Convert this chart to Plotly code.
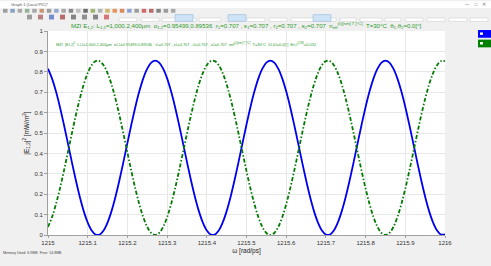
import plotly.graph_objects as go

# ---- data ----
omega = [round(1215 + 0.01 * i, 2) for i in range(101)]  # rad/ps sample positions

blue_E = [0.8155,0.7678,0.7042,0.6278,0.5416,0.4506,0.3583,0.2693,0.1876,0.1171,0.0612,0.0224,0.0025,0.0025,0.0224,0.0612,0.1171,0.1876,0.2693,0.3583,0.4506,0.5416,0.6278,0.7042,0.7678,0.8155,0.8450,0.8550,0.8450,0.8155,0.7678,0.7042,0.6278,0.5416,0.4506,0.3583,0.2693,0.1876,0.1171,0.0612,0.0224,0.0025,0.0025,0.0224,0.0612,0.1171,0.1876,0.2693,0.3583,0.4506,0.5416,0.6278,0.7042,0.7678,0.8155,0.8450,0.8550,0.8450,
          0.8155,0.7678,0.7042,0.6278,0.5416,0.4506,0.3583,0.2693,0.1876,0.1171,0.0612,0.0224,0.0025,0.0025,0.0224,0.0612,0.1171,0.1876,0.2693,0.3583,0.4506,0.5416,0.6278,0.7042,0.7678,0.8155,0.8450,0.8550,0.8450,0.8155,0.7678,0.7042,0.6278,0.5416,0.4506,0.3583,0.2693,0.1876,0.1171,0.0612,0.0224,0.0025,0.0025]

green_E = [0.0395,0.0872,0.1508,0.2272,0.3134,0.4044,0.4967,0.5857,0.6674,0.7379,0.7938,0.8326,0.8525,0.8525,0.8326,0.7938,0.7379,0.6674,0.5857,0.4967,0.4044,0.3134,0.2272,0.1508,0.0872,0.0395,0.0100,0.0000,0.0100,0.0395,0.0872,0.1508,0.2272,0.3134,0.4044,0.4967,0.5857,0.6674,0.7379,0.7938,0.8326,0.8525,0.8525,0.8326,0.7938,0.7379,0.6674,0.5857,0.4967,0.4044,0.3134,0.2272,0.1508,0.0872,0.0395,0.0100,0.0000,0.0100,
           0.0395,0.0872,0.1508,0.2272,0.3134,0.4044,0.4967,0.5857,0.6674,0.7379,0.7938,0.8326,0.8525,0.8525,0.8326,0.7938,0.7379,0.6674,0.5857,0.4967,0.4044,0.3134,0.2272,0.1508,0.0872,0.0395,0.0100,0.0000,0.0100,0.0395,0.0872,0.1508,0.2272,0.3134,0.4044,0.4967,0.5857,0.6674,0.7379,0.7938,0.8326,0.8525,0.8525]

x_ticks = [1215, 1215.1, 1215.2, 1215.3, 1215.4, 1215.5, 1215.6, 1215.7, 1215.8, 1215.9, 1216]
x_labels = ["1215", "1215.1", "1215.2", "1215.3", "1215.4", "1215.5", "1215.6", "1215.7", "1215.8", "1215.9", "1216"]
y_ticks = [0, 0.1, 0.2, 0.3, 0.4, 0.5, 0.6, 0.7, 0.8, 0.9, 1]
y_labels = ["0", "0.1", "0.2", "0.3", "0.4", "0.5", "0.6", "0.7", "0.8", "0.9", "1"]

title_text = ("MZI E<sub>1,2</sub>: L<sub>1,2</sub>=1,000.2,400μm  α<sub>1,2</sub>=0.95499,0.89536  "
              "r<sub>1</sub>=0.707 , κ<sub>1</sub>=0.707 , r<sub>2</sub>=0.707 , κ<sub>2</sub>=0.707  "
              "n<sub>eff</sub><sup>(λ)[nm] T [°C]</sup>  T=30°C  θ<sub>1</sub>,θ<sub>2</sub>=0.0[°]")
legend_text = ("MZI  |E<sub>1,2</sub>|<sup>2</sup>  L<sub>1,2</sub>=1,000.2,400μm  α<sub>1,2</sub>=0.95499,0.89536 · "
               "r<sub>1</sub>=0.707 , κ<sub>1</sub>=0.707 , r<sub>2</sub>=0.707 , κ<sub>2</sub>=0.707  "
               "n<sub>eff</sub><sup>(λ)[nm] T [°C]</sup>  T=30°C  θ<sub>1</sub>,θ<sub>2</sub>=0.0[°]  "
               "E<sub>in,1</sub><sup>(CW)</sup>=0.032")

W, H = 491, 266
L, R, T, B = 48, 46, 31, 23
PW, PH = W - L - R, H - T - B

def px(xp):
    return (xp - L) / PW

def py(yp):
    return (H - B - yp) / PH

FONT = "Liberation Sans, Arial, sans-serif"

fig = go.Figure()
fig.add_trace(go.Scatter(x=omega, y=blue_E, mode="lines", line=dict(color="#0000ee", width=1.8, shape="spline"),
                         showlegend=False, hoverinfo="skip"))
fig.add_trace(go.Scatter(x=omega, y=green_E, mode="lines",
                         line=dict(color="#007a00", width=1.8, dash="4px,2px,1.5px,2px", shape="spline"),
                         showlegend=False, hoverinfo="skip"))

shapes = []
# window title bar & toolbars
shapes.append(dict(type="rect", xref="paper", yref="paper", x0=px(0), x1=px(W), y0=py(0), y1=py(7),
                   fillcolor="white", line=dict(width=0), layer="below"))
icon_cols = ["#7a7a7a", "#5a7fb0", "#8a8a8a", "#6a9a6a", "#8a8a8a", "#b07040", "#777", "#6a8ac0", "#888",
             "#5a5a5a", "#aaa", "#333", "#7a9a3a", "#999", "#c0a030", "#e07020", "#d06020", "#6080c0",
             "#777", "#c03030", "#a03030", "#555", "#777", "#888"]
for i, c in enumerate(icon_cols):
    x0 = 3 + i * 7.3
    shapes.append(dict(type="rect", xref="paper", yref="paper", x0=px(x0), x1=px(x0 + 4.5),
                       y0=py(8), y1=py(12), fillcolor=c, line=dict(width=0), layer="below", opacity=0.7))
for i, c in enumerate(["#777", "#a05050", "#4060c0", "#a03030", "#555", "#666", "#555", "#d04040"]):
    x0 = 27 + i * 11
    shapes.append(dict(type="rect", xref="paper", yref="paper", x0=px(x0), x1=px(x0 + 5),
                       y0=py(14), y1=py(19), fillcolor=c, line=dict(width=0), layer="below", opacity=0.7))
for x0, w in [(119, 18), (141, 18), (162, 14), (180, 16), (199, 22), (226, 16), (247, 18), (269, 18),
              (291, 24), (318, 18), (340, 16), (360, 22), (385, 16), (405, 18), (427, 18), (449, 18), (470, 18)]:
    shapes.append(dict(type="rect", xref="paper", yref="paper", x0=px(x0), x1=px(x0 + w),
                       y0=py(17.5), y1=py(21), fillcolor="white", line=dict(color="#c8c8c8", width=0.5),
                       layer="below"))
for x0 in [175, 228, 313]:
    shapes.append(dict(type="rect", xref="paper", yref="paper", x0=px(x0), x1=px(x0 + 18),
                       y0=py(14), y1=py(21), fillcolor="#cfe3f7", line=dict(color="#8ab0d8", width=0.5),
                       layer="below"))
# legend colour boxes on the right
for y0, c in [(30, "#0000ff"), (40, "#008000")]:
    shapes.append(dict(type="rect", xref="paper", yref="paper", x0=px(478), x1=px(491), y0=py(y0 + 8), y1=py(y0),
                       fillcolor=c, line=dict(width=0)))
    shapes.append(dict(type="rect", xref="paper", yref="paper", x0=px(480), x1=px(483), y0=py(y0 + 5), y1=py(y0 + 2.5),
                       fillcolor="white", line=dict(width=0)))

annotations = [
    dict(text=title_text, xref="paper", yref="paper", x=px(246), y=py(25.5), xanchor="center", yanchor="middle",
         showarrow=False, font=dict(family=FONT, size=6.1, color="#2e9a2e")),
    dict(text=legend_text, xref="paper", yref="paper", x=px(54), y=py(44), xanchor="left", yanchor="middle",
         showarrow=False, font=dict(family=FONT, size=3.95, color="#2e9a2e")),
    dict(text="Graph 1 (Local PIC)*", xref="paper", yref="paper", x=px(9), y=py(3.5), xanchor="left",
         yanchor="middle", showarrow=False, font=dict(family=FONT, size=4, color="#555")),
    dict(text="—    □    ✕", xref="paper", yref="paper", x=px(488), y=py(3.5), xanchor="right",
         yanchor="middle", showarrow=False, font=dict(family=FONT, size=4.5, color="#777")),
    dict(text="Memory Used: 6.9MB  Free: 14.8MB", xref="paper", yref="paper", x=px(1), y=py(262),
         xanchor="left", yanchor="middle", showarrow=False, font=dict(family=FONT, size=3.6, color="#444")),
]

fig.update_layout(
    width=W, height=H,
    margin=dict(l=L, r=R, t=T, b=B, pad=0),
    paper_bgcolor="#f0f0f0", plot_bgcolor="white",
    font=dict(family=FONT, size=6, color="#333"),
    shapes=shapes, annotations=annotations,
    xaxis=dict(range=[1215, 1216], tickvals=x_ticks, ticktext=x_labels, showgrid=True, gridcolor="#e8e8e8",
               gridwidth=0.6, zeroline=False, showline=True, linecolor="#a0a0a0", linewidth=1,
               ticks="outside", ticklen=2, tickcolor="#a0a0a0", tickfont=dict(size=6, color="#333"),
               title=dict(text="ω [rad/ps]", font=dict(size=6.5, color="#222"), standoff=3)),
    yaxis=dict(range=[0, 1], tickvals=y_ticks, ticktext=y_labels, showgrid=True, gridcolor="#e8e8e8",
               gridwidth=0.6, zeroline=False, showline=True, linecolor="#a0a0a0", linewidth=1,
               ticks="outside", ticklen=3, tickcolor="#a0a0a0", tickfont=dict(size=6, color="#333"),
               title=dict(text="|E<sub>1,2</sub>|<sup>2</sup> [mW/m<sup>2</sup>]", font=dict(size=6.5, color="#222"),
                          standoff=4)),
)

fig.write_html("out.html")
